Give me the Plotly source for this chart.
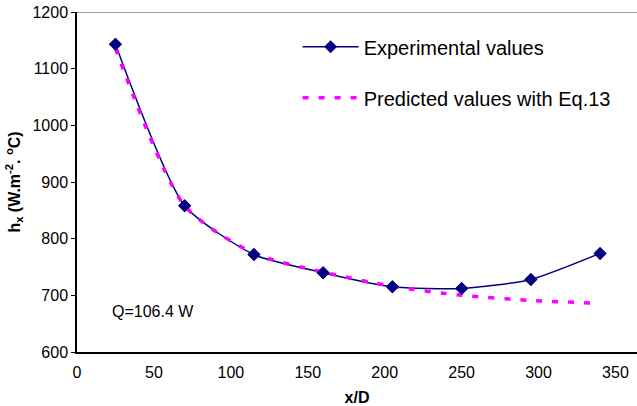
import plotly.graph_objects as go

x_d = [25, 70, 115, 160, 205, 250, 295, 340]
h_exp = [1143, 858, 772, 740, 715, 712, 728, 774]
h_pred = [1136, 858, 774, 741, 716, 700, 691, 686]

x_ticks = [0, 50, 100, 150, 200, 250, 300, 350]
y_ticks = [600, 700, 800, 900, 1000, 1100, 1200]

FONT = "Liberation Sans, Arial, sans-serif"
NAVY = "#000080"
MAG = "#FF00FF"

fig = go.Figure()
fig.add_trace(go.Scatter(
    x=x_d, y=h_exp, mode="lines+markers", name="Experimental values",
    line=dict(color=NAVY, width=1.5, shape="spline", smoothing=0.6),
    marker=dict(symbol="diamond", size=10, color=NAVY),
    legendgroup="a"))
fig.add_trace(go.Scatter(
    x=x_d, y=h_pred, mode="lines", name="Predicted values with Eq.13",
    line=dict(color=MAG, width=3.5, shape="spline", smoothing=0.7, dash="6px,10px"),
    legendgroup="b"))
fig.add_trace(go.Scatter(
    x=x_d, y=h_exp, mode="markers", showlegend=False,
    marker=dict(symbol="diamond", size=10, color=NAVY)))

fig.add_shape(type="line", xref="paper", yref="y", x0=0, x1=1, y0=1200, y1=1200,
              line=dict(color="#808080", width=1.5))

fig.add_annotation(x=21.5, y=672, xref="x", yref="y", text="Q=106.4 W",
                   showarrow=False, xanchor="left", yanchor="middle",
                   font=dict(family=FONT, size=16, color="black"))

fig.update_layout(
    width=637, height=406,
    margin=dict(l=77, r=0, t=12, b=54),
    paper_bgcolor="white", plot_bgcolor="white",
    font=dict(family=FONT, size=16, color="black"),
    showlegend=True,
    legend=dict(x=0.394, y=0.955, xanchor="left", yanchor="top",
                bgcolor="rgba(0,0,0,0)", font=dict(size=20, family=FONT),
                traceorder="grouped", tracegroupgap=22, itemwidth=56),
    xaxis=dict(range=[0, 364], tickvals=x_ticks, showgrid=False, zeroline=False,
               showline=True, linecolor="black", linewidth=1.5, ticks="",
               ticklabelstandoff=5,
               title=dict(text="<b>x/D</b>", font=dict(size=16, family=FONT), standoff=13)),
    yaxis=dict(range=[600, 1200], tickvals=y_ticks, showgrid=False, zeroline=False,
               showline=True, linecolor="black", linewidth=1.5, ticks="outside",
               ticklen=4, tickcolor="black",
               title=dict(text="<b>h<sub>x</sub> (W.m<sup>-2</sup>. <sup>o</sup>C)</b>",
                          font=dict(size=16, family=FONT), standoff=8)),
)

fig.write_html("out.html")
